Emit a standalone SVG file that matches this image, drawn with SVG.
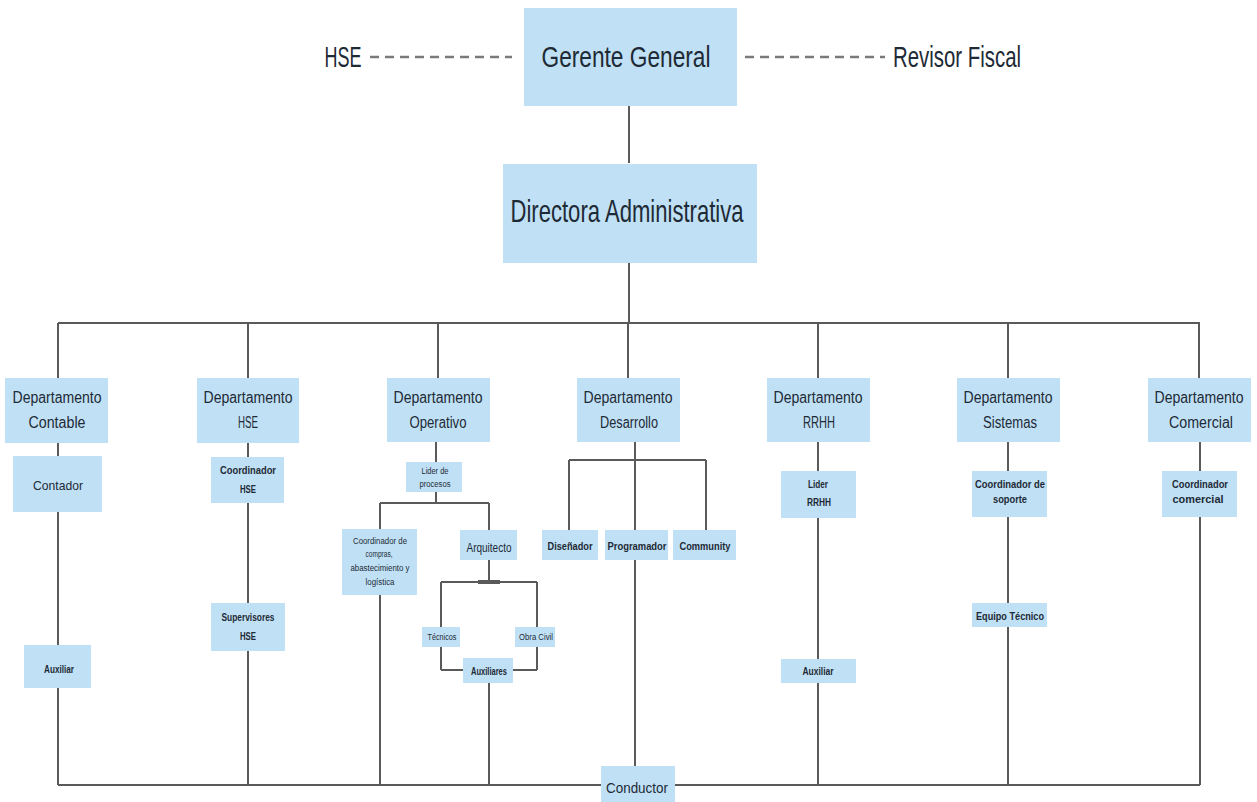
<svg xmlns="http://www.w3.org/2000/svg" width="1257" height="802" viewBox="0 0 1257 802">
<style>
.box{fill:#c0e1f5}
.ln{stroke:#5a5a5a;stroke-width:2;fill:none}
.dash{stroke:#7a7a7a;stroke-width:2.5;stroke-dasharray:9 6;fill:none}
text{font-family:"Liberation Sans",Arial,sans-serif;fill:#1e2a35;text-anchor:middle}
.big{font-size:29px}
.dep{font-size:16px}
.md{font-size:13px}
.sm{font-size:11px;font-weight:bold}
.xs{font-size:8.5px}
</style>
<rect width="1257" height="802" fill="#ffffff"/>
<g id="connectors">
<path class="dash" d="M370 57H512M745 57H885"/>
<path class="ln" d="M629 106V163M629 263V323M58 323H1200"/>
<path class="ln" d="M58 323V378M248 323V378M438 323V378M628 323V378M818 323V378M1008 323V378M1199 323V378"/>
<path class="ln" d="M58 443V785M248 443V785M818 442V785M1008 442V785M1200 442V785M58 785H1200"/>
<path class="ln" d="M436 442V462M436 492V503M380 503H489M380 503V785M489 503V530M489 560V582M441 582H537M441 582V670M537 582V670M441 670H463M513 670H537M489 683V785"/>
<path stroke="#5a5a5a" stroke-width="4" d="M478 582H500"/>
<path class="ln" d="M635 442V785M569 460H706M569 460V530M706 460V530"/>
</g>
<g id="hse-top"><text class="big" x="343" y="67" textLength="37" lengthAdjust="spacingAndGlyphs">HSE</text></g>
<g id="revisor"><text class="big" x="957" y="67" textLength="128" lengthAdjust="spacingAndGlyphs">Revisor Fiscal</text></g>
<g id="gerente"><rect class="box" x="524" y="8" width="213" height="98"/><text class="big" x="626" y="67" textLength="169" lengthAdjust="spacingAndGlyphs">Gerente General</text></g>
<g id="directora"><rect class="box" x="503" y="164" width="254" height="99"/><text x="627" y="222" font-size="32" textLength="233" lengthAdjust="spacingAndGlyphs">Directora Administrativa</text></g>

<g id="dep-contable"><rect class="box" x="5" y="378" width="103" height="65"/><text class="dep" x="57" y="403" textLength="89" lengthAdjust="spacingAndGlyphs">Departamento</text><text class="dep" x="57" y="428" textLength="57" lengthAdjust="spacingAndGlyphs">Contable</text></g>
<g id="dep-hse"><rect class="box" x="197" y="378" width="102" height="65"/><text class="dep" x="248" y="403" textLength="89" lengthAdjust="spacingAndGlyphs">Departamento</text><text class="dep" x="248" y="428" textLength="20" lengthAdjust="spacingAndGlyphs">HSE</text></g>
<g id="dep-operativo"><rect class="box" x="387" y="378" width="103" height="64"/><text class="dep" x="438" y="403" textLength="89" lengthAdjust="spacingAndGlyphs">Departamento</text><text class="dep" x="438" y="428" textLength="57" lengthAdjust="spacingAndGlyphs">Operativo</text></g>
<g id="dep-desarrollo"><rect class="box" x="577" y="378" width="103" height="64"/><text class="dep" x="628" y="403" textLength="89" lengthAdjust="spacingAndGlyphs">Departamento</text><text class="dep" x="629" y="428" textLength="58" lengthAdjust="spacingAndGlyphs">Desarrollo</text></g>
<g id="dep-rrhh"><rect class="box" x="767" y="378" width="103" height="64"/><text class="dep" x="818" y="403" textLength="89" lengthAdjust="spacingAndGlyphs">Departamento</text><text class="dep" x="819" y="428" textLength="32" lengthAdjust="spacingAndGlyphs">RRHH</text></g>
<g id="dep-sistemas"><rect class="box" x="957" y="378" width="103" height="64"/><text class="dep" x="1008" y="403" textLength="89" lengthAdjust="spacingAndGlyphs">Departamento</text><text class="dep" x="1010" y="428" textLength="54" lengthAdjust="spacingAndGlyphs">Sistemas</text></g>
<g id="dep-comercial"><rect class="box" x="1148" y="378" width="103" height="64"/><text class="dep" x="1199" y="403" textLength="89" lengthAdjust="spacingAndGlyphs">Departamento</text><text class="dep" x="1201" y="428" textLength="64" lengthAdjust="spacingAndGlyphs">Comercial</text></g>

<g id="contador"><rect class="box" x="13" y="456" width="89" height="56"/><text class="md" x="58" y="490" textLength="50" lengthAdjust="spacingAndGlyphs">Contador</text></g>
<g id="auxiliar-contable"><rect class="box" x="24" y="645" width="67" height="43"/><text class="sm" x="59" y="673" textLength="30" lengthAdjust="spacingAndGlyphs">Auxiliar</text></g>
<g id="coord-hse"><rect class="box" x="211" y="457" width="73" height="46"/><text class="sm" x="248" y="474" textLength="56" lengthAdjust="spacingAndGlyphs">Coordinador</text><text class="sm" x="248" y="493" textLength="16" lengthAdjust="spacingAndGlyphs">HSE</text></g>
<g id="supervisores-hse"><rect class="box" x="211" y="603" width="74" height="48"/><text class="sm" x="248" y="621" textLength="53" lengthAdjust="spacingAndGlyphs">Supervisores</text><text class="sm" x="248" y="640" textLength="16" lengthAdjust="spacingAndGlyphs">HSE</text></g>

<g id="lider-procesos"><rect class="box" x="406" y="462" width="56" height="30"/><text class="xs" x="435" y="474" textLength="27" lengthAdjust="spacingAndGlyphs">Lider de</text><text class="xs" x="435" y="487" textLength="31" lengthAdjust="spacingAndGlyphs">procesos</text></g>
<g id="coord-compras"><rect class="box" x="342" y="529" width="75" height="66"/><text class="xs" x="380" y="544" textLength="54" lengthAdjust="spacingAndGlyphs">Coordinador de</text><text class="xs" x="379" y="557" textLength="27" lengthAdjust="spacingAndGlyphs">compras,</text><text class="xs" x="380" y="571" textLength="59" lengthAdjust="spacingAndGlyphs">abastecimiento y</text><text class="xs" x="380" y="585" textLength="29" lengthAdjust="spacingAndGlyphs">logística</text></g>
<g id="arquitecto"><rect class="box" x="460" y="530" width="57" height="30"/><text class="md" x="489" y="552" textLength="45" lengthAdjust="spacingAndGlyphs">Arquitecto</text></g>
<g id="tecnicos"><rect class="box" x="422" y="627" width="38" height="20"/><text class="xs" x="442" y="640" textLength="29" lengthAdjust="spacingAndGlyphs">Técnicos</text></g>
<g id="obra-civil"><rect class="box" x="515" y="627" width="40" height="20"/><text class="xs" x="536" y="640" textLength="34" lengthAdjust="spacingAndGlyphs">Obra Civil</text></g>
<g id="auxiliares"><rect class="box" x="463" y="658" width="50" height="25"/><text class="sm" x="489" y="675" textLength="36" lengthAdjust="spacingAndGlyphs">Auxiliares</text></g>

<g id="disenador"><rect class="box" x="542" y="530" width="56" height="30"/><text class="sm" x="570" y="550" textLength="45" lengthAdjust="spacingAndGlyphs">Diseñador</text></g>
<g id="programador"><rect class="box" x="605" y="530" width="63" height="30"/><text class="sm" x="637" y="550" textLength="59" lengthAdjust="spacingAndGlyphs">Programador</text></g>
<g id="community"><rect class="box" x="673" y="530" width="63" height="30"/><text class="sm" x="705" y="550" textLength="51" lengthAdjust="spacingAndGlyphs">Community</text></g>

<g id="lider-rrhh"><rect class="box" x="781" y="471" width="75" height="47"/><text class="sm" x="818" y="488" textLength="20" lengthAdjust="spacingAndGlyphs">Lider</text><text class="sm" x="819" y="506" textLength="24" lengthAdjust="spacingAndGlyphs">RRHH</text></g>
<g id="auxiliar-rrhh"><rect class="box" x="781" y="659" width="75" height="24"/><text class="sm" x="818" y="675" textLength="31" lengthAdjust="spacingAndGlyphs">Auxiliar</text></g>

<g id="coord-soporte"><rect class="box" x="972" y="471" width="75" height="46"/><text class="sm" x="1010" y="488" textLength="70" lengthAdjust="spacingAndGlyphs">Coordinador de</text><text class="sm" x="1010" y="503" textLength="34" lengthAdjust="spacingAndGlyphs">soporte</text></g>
<g id="equipo-tecnico"><rect class="box" x="972" y="603" width="75" height="24"/><text class="sm" x="1010" y="620" textLength="68" lengthAdjust="spacingAndGlyphs">Equipo Técnico</text></g>

<g id="coord-comercial"><rect class="box" x="1162" y="471" width="75" height="46"/><text class="sm" x="1200" y="488" textLength="56" lengthAdjust="spacingAndGlyphs">Coordinador</text><text class="sm" x="1198" y="503" textLength="51" lengthAdjust="spacingAndGlyphs">comercial</text></g>

<g id="conductor"><rect class="box" x="601" y="766" width="74" height="36"/><text x="637" y="793" font-size="14" textLength="62" lengthAdjust="spacingAndGlyphs">Conductor</text></g>
</svg>
